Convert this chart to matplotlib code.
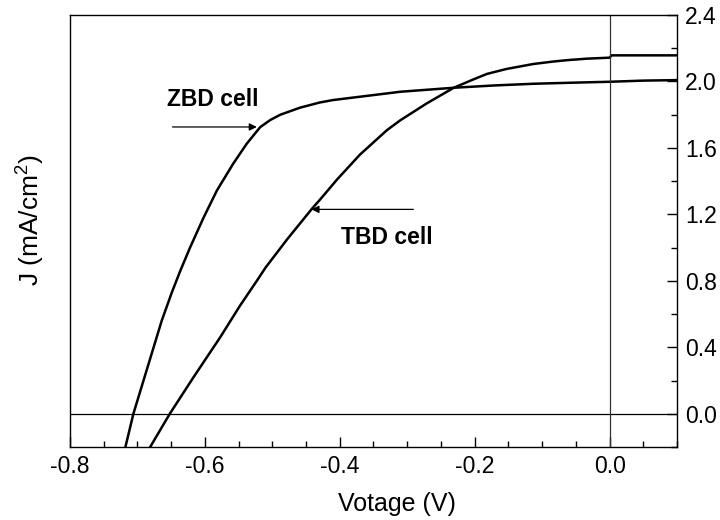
import matplotlib
matplotlib.use("Agg")
import matplotlib.pyplot as plt
from matplotlib.ticker import MultipleLocator

plt.rcParams['font.family'] = ['Liberation Sans', 'DejaVu Sans']
plt.rcParams['mathtext.fontset'] = 'custom'
plt.rcParams['mathtext.rm'] = 'Liberation Sans'
plt.rcParams['mathtext.it'] = 'Liberation Sans:italic'
plt.rcParams['mathtext.bf'] = 'Liberation Sans:bold'

# ZBD cell J-V curve
zbd_v = [-0.719, -0.706, -0.691, -0.676, -0.664, -0.649, -0.637, -0.622, -0.602,
         -0.582, -0.558, -0.538, -0.518, -0.503, -0.488, -0.459, -0.43, -0.41, -0.36,
         -0.31, -0.231, -0.17, -0.113, -0.05, 0.0, 0.05, 0.1]
zbd_j = [-0.22, 0.0, 0.20, 0.40, 0.56, 0.73, 0.855, 1.00, 1.18,
         1.345, 1.505, 1.625, 1.725, 1.768, 1.800, 1.842, 1.873, 1.888, 1.913,
         1.938, 1.962, 1.976, 1.986, 1.993, 1.998, 2.005, 2.008]

# TBD cell J-V curve
tbd_v = [-0.684, -0.652, -0.617, -0.577, -0.548, -0.523, -0.51, -0.478, -0.441,
         -0.429, -0.404, -0.37, -0.33, -0.31, -0.271, -0.231, -0.202, -0.182,
         -0.153, -0.113, -0.083, -0.063, -0.034, 0.0, 0.003, 0.1]
tbd_j = [-0.22, 0.0, 0.219, 0.462, 0.65, 0.80, 0.88, 1.05, 1.235,
         1.29, 1.41, 1.56, 1.707, 1.767, 1.868, 1.962, 2.012, 2.045,
         2.075, 2.105, 2.12, 2.128, 2.137, 2.143, 2.157, 2.157]

x_ticks = [-0.8, -0.6, -0.4, -0.2, 0.0]
x_ticklabels = ['-0.8', '-0.6', '-0.4', '-0.2', '0.0']
y_ticks = [0.0, 0.4, 0.8, 1.2, 1.6, 2.0, 2.4]
y_ticklabels = ['0.0', '0.4', '0.8', '1.2', '1.6', '2.0', '2.4']

fig = plt.figure(figsize=(7.2, 5.2), dpi=100)
ax = fig.add_axes([0.0972, 0.1404, 0.8431, 0.8308])

ax.plot(zbd_v, zbd_j, color='black', lw=1.8, solid_joinstyle='round')
ax.plot(tbd_v, tbd_j, color='black', lw=1.8, solid_joinstyle='round')
ax.axhline(0.0, color='black', lw=0.9)
ax.axvline(0.0, color='#333333', lw=0.9)

ax.set_xlim(-0.8, 0.1)
ax.set_ylim(-0.2, 2.4)

ax.set_xticks(x_ticks)
ax.set_xticklabels(x_ticklabels)
ax.xaxis.set_minor_locator(MultipleLocator(0.05))
ax.yaxis.tick_right()
ax.yaxis.set_label_position('left')
ax.set_yticks(y_ticks)
ax.set_yticklabels(y_ticklabels)
ax.yaxis.set_minor_locator(MultipleLocator(0.2))

ax.tick_params(axis='x', which='both', direction='in', top=False, bottom=True,
               labelsize=16.5, pad=6)
ax.tick_params(axis='y', which='both', direction='in', left=False, right=True,
               labelleft=False, labelright=True, labelsize=16.5, pad=6)
ax.tick_params(which='major', length=7, width=1.0)
ax.tick_params(which='minor', length=4, width=1.0)

for s in ax.spines.values():
    s.set_linewidth(1.0)

ax.set_xlabel('Votage (V)', fontsize=18)
ax.xaxis.set_label_coords(0.538, -0.105)
ax.set_ylabel('J (mA/cm$^{\\mathregular{2}}$)', fontsize=19)
ax.yaxis.set_label_coords(-0.038, 0.525)

ax.annotate('', xy=(-0.523, 1.726), xytext=(-0.648, 1.726),
            arrowprops=dict(arrowstyle='-|>', color='black', lw=0.9,
                            mutation_scale=11, shrinkA=0, shrinkB=0))
ax.text(-0.589, 1.893, 'ZBD cell', fontsize=16.5, fontweight='bold',
        ha='center', va='center')

ax.annotate('', xy=(-0.442, 1.23), xytext=(-0.291, 1.23),
            arrowprops=dict(arrowstyle='-|>', color='black', lw=0.9,
                            mutation_scale=11, shrinkA=0, shrinkB=0))
ax.text(-0.33, 1.061, 'TBD cell', fontsize=16.5, fontweight='bold',
        ha='center', va='center')

fig.savefig('out.png', dpi=100)
